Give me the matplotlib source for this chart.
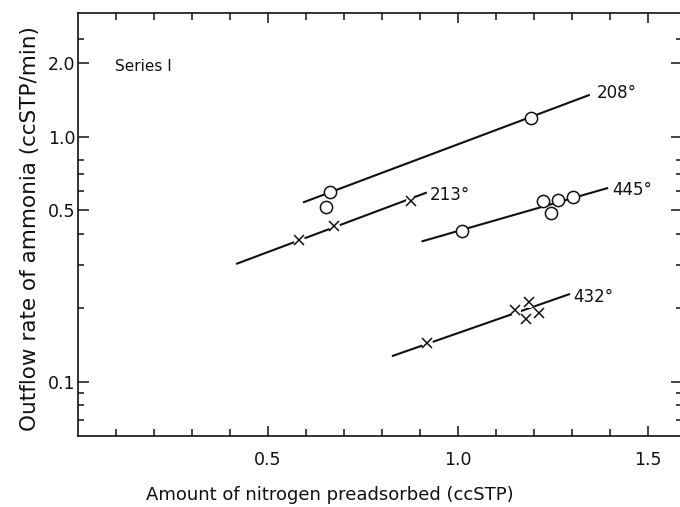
import matplotlib
matplotlib.use("Agg")
import matplotlib.pyplot as plt
from matplotlib.ticker import FixedLocator, NullFormatter


# 208 deg, open circles
x_208 = [0.663, 0.653, 1.192]
y_208 = [0.596, 0.518, 1.189]
fit_208_x = [0.592, 1.347]
fit_208_y = [0.538, 1.480]

# 213 deg, crosses
x_213 = [0.582, 0.674, 0.876]
y_213 = [0.379, 0.432, 0.544]
fit_213_x = [0.416, 0.918]
fit_213_y = [0.302, 0.591]

# 445 deg, open circles
x_445 = [1.010, 1.224, 1.264, 1.302, 1.244]
y_445 = [0.412, 0.546, 0.551, 0.569, 0.487]
fit_445_x = [0.904, 1.395]
fit_445_y = [0.373, 0.617]

# 432 deg, crosses
x_432 = [0.919, 1.150, 1.188, 1.179, 1.212]
y_432 = [0.144, 0.196, 0.212, 0.180, 0.190]
fit_432_x = [0.826, 1.295]
fit_432_y = [0.127, 0.228]

curve_labels = ["208°", "213°", "445°", "432°"]
label_x = [1.366, 0.926, 1.405, 1.303]
label_y = [1.50, 0.575, 0.606, 0.222]

y_major = [0.1, 0.5, 1.0, 2.0]
y_major_labels = ["0.1", "0.5", "1.0", "2.0"]
y_minor = [0.07, 0.08, 0.09, 0.2, 0.3, 0.4, 0.6, 0.7, 0.8, 2.5]
x_major = [0.5, 1.0, 1.5]
x_major_labels = ["0.5", "1.0", "1.5"]
x_minor = [0.1, 0.2, 0.3, 0.4, 0.6, 0.7, 0.8, 0.9, 1.1, 1.2, 1.3, 1.4]

plt.rcParams.update({
    "font.family": ["DejaVu Sans"],
    "font.size": 12,
})

fig = plt.figure(figsize=(6.8, 5.07), dpi=100)
ax = fig.add_axes([78 / 680, 71 / 507, (682 - 78) / 680, (436 - 12.7) / 507])

ink = "#111111"
lw = 1.5

for fx, fy in [(fit_208_x, fit_208_y), (fit_213_x, fit_213_y),
               (fit_445_x, fit_445_y), (fit_432_x, fit_432_y)]:
    ax.plot(fx, fy, color=ink, linewidth=lw, solid_capstyle="butt", zorder=2)

# open circles hide the line beneath them
for xs, ys in [(x_208, y_208), (x_445, y_445)]:
    ax.plot(xs, ys, linestyle="none", marker="o", markersize=8.8,
            markerfacecolor="white", markeredgecolor=ink, markeredgewidth=1.1, zorder=4)

# crosses with a small white gap in the line
for xs, ys in [(x_213, y_213), (x_432, y_432)]:
    ax.plot(xs, ys, linestyle="none", marker="o", markersize=8,
            markerfacecolor="white", markeredgecolor="none", zorder=3)
    ax.plot(xs, ys, linestyle="none", marker="x", markersize=7.5,
            markeredgecolor=ink, markeredgewidth=1.1, zorder=4)

for txt, lx, ly in zip(curve_labels, label_x, label_y):
    ax.text(lx, ly, txt, ha="left", va="center", fontsize=12, color=ink)

ax.text(0.097, 1.93, "Series I", ha="left", va="center", fontsize=11, color=ink)

ax.set_yscale("log")
ax.set_xlim(0, (682 - 78) / 380)
ax.set_ylim(0.06, 3.2)

ax.yaxis.set_major_locator(FixedLocator(y_major))
ax.set_yticklabels(y_major_labels)
ax.yaxis.set_minor_locator(FixedLocator(y_minor))
ax.yaxis.set_minor_formatter(NullFormatter())
ax.xaxis.set_major_locator(FixedLocator(x_major))
ax.set_xticklabels(x_major_labels)
ax.xaxis.set_minor_locator(FixedLocator(x_minor))

ax.tick_params(which="both", direction="in", top=True, right=True,
               color=ink, labelcolor=ink, width=1.1)
ax.tick_params(axis="y", which="major", length=8, pad=2, labelsize=12.5)
ax.tick_params(axis="y", which="minor", length=4.5)
ax.tick_params(axis="x", which="major", length=7, pad=11, labelsize=12.5)
ax.tick_params(axis="x", which="minor", length=5)

for s in ax.spines.values():
    s.set_linewidth(1.2)
    s.set_color(ink)
# right border falls just outside the scanned frame
ax.spines["right"].set_visible(False)

fig.text(330 / 680, 1 - 495 / 507, "Amount of nitrogen preadsorbed (ccSTP)",
         ha="center", va="center", fontsize=13, color=ink)
fig.text(30 / 680, 1 - 229 / 507, "Outflow rate of ammonia (ccSTP/min)",
         ha="center", va="center", rotation=90, fontsize=15.5, color=ink)

fig.savefig("out.png", dpi=100)
